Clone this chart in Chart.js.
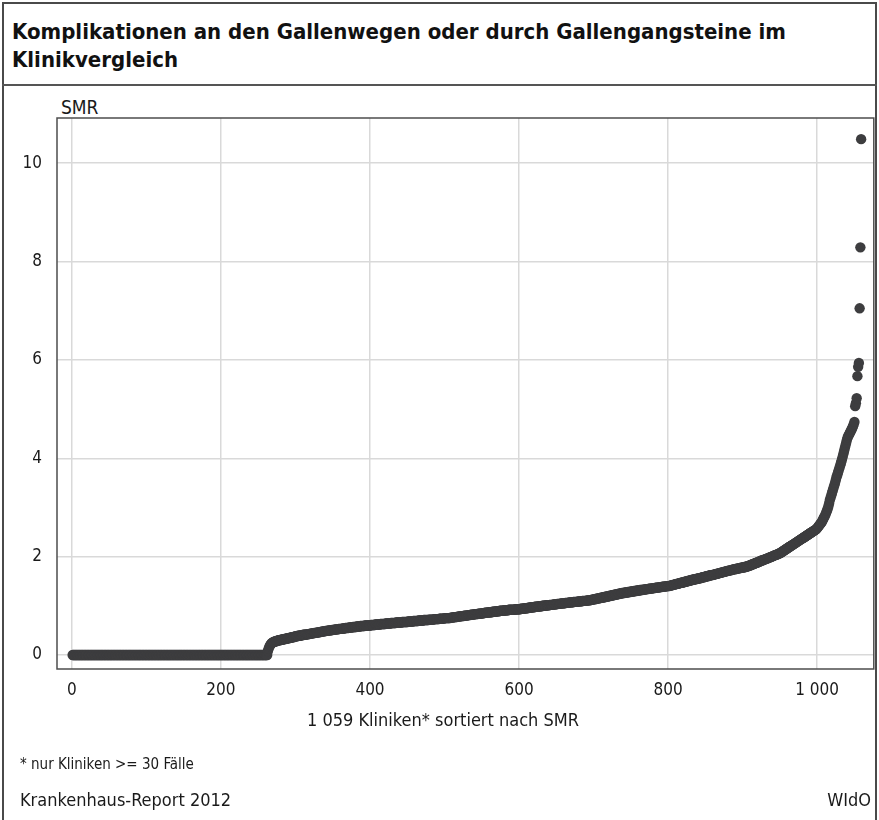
<!DOCTYPE html>
<html lang="de">
<head>
<meta charset="utf-8">
<title>Komplikationen an den Gallenwegen</title>
<script src="https://cdn.jsdelivr.net/npm/chart.js@4.4.1/dist/chart.umd.min.js"></script>
<style>
  html, body { margin: 0; padding: 0; background: #fff; }
  body { width: 879px; height: 820px; position: relative; overflow: hidden;
         font-family: "Liberation Sans Narrow", "DejaVu Sans Condensed", "Open Sans", sans-serif;
         font-stretch: condensed; color: #1a1a1a; }
  #frame { position: absolute; left: 2px; top: 2px; width: 875px; height: 840px;
           border: 2px solid #4a4a4a; box-sizing: border-box; }
  #title { position: absolute; left: 12px; top: 18px; font-size: 22px; font-weight: bold;
           line-height: 28px; color: #111; white-space: nowrap; }
  #sep { position: absolute; left: 2px; top: 84px; width: 875px; height: 0;
         border-top: 2px solid #555; }
  .txt { position: absolute; white-space: nowrap; }
  #chart { position: absolute; left: 0; top: 0; }
</style>
</head>
<body>
<div id="frame"></div>
<div id="title">Komplikationen an den Gallenwegen oder durch Gallengangsteine im<br>Klinikvergleich</div>
<div id="sep"></div>
<div class="txt" style="left:61px;top:96px;font-size:19px;">SMR</div>
<canvas id="chart" width="879" height="820"></canvas>
<div class="txt" style="left:0;width:886px;text-align:center;top:709px;font-size:18px;">1 059 Kliniken* sortiert nach SMR</div>
<div class="txt" style="left:20px;top:755px;font-size:15px;">* nur Kliniken &gt;= 30 Fälle</div>
<div class="txt" style="left:20px;top:789px;font-size:18px;">Krankenhaus-Report 2012</div>
<div class="txt" style="right:8px;top:789px;font-size:18px;">WIdO</div>
<script>
// Kliniken 1..1059, sortiert nach SMR
const zeroSMR = [
  0,0,0,0,0,0,0,0,0,0,0,0,0,0,0,0,0,0,0,0,
  0,0,0,0,0,0,0,0,0,0,0,0,0,0,0,0,0,0,0,0,
  0,0,0,0,0,0,0,0,0,0,0,0,0,0,0,0,0,0,0,0,
  0,0,0,0,0,0,0,0,0,0,0,0,0,0,0,0,0,0,0,0,
  0,0,0,0,0,0,0,0,0,0,0,0,0,0,0,0,0,0,0,0,
  0,0,0,0,0,0,0,0,0,0,0,0,0,0,0,0,0,0,0,0,
  0,0,0,0,0,0,0,0,0,0,0,0,0,0,0,0,0,0,0,0,
  0,0,0,0,0,0,0,0,0,0,0,0,0,0,0,0,0,0,0,0,
  0,0,0,0,0,0,0,0,0,0,0,0,0,0,0,0,0,0,0,0,
  0,0,0,0,0,0,0,0,0,0,0,0,0,0,0,0,0,0,0,0,
  0,0,0,0,0,0,0,0,0,0,0,0,0,0,0,0,0,0,0,0,
  0,0,0,0,0,0,0,0,0,0,0,0,0,0,0,0,0,0,0,0,
  0,0,0,0,0,0,0,0,0,0,0,0,0,0,0,0,0,0,0,0,
  0,0
];
const lowSMR = [
  // 263-280
  0.08,0.13,0.17,0.20,0.22,0.24,0.25,0.26,0.27,0.27,0.28,0.28,0.29,0.29,0.30,0.30,0.30,0.31,
  // 281-300
  0.31,0.31,0.32,0.32,0.32,0.33,0.33,0.33,0.34,0.34,0.34,0.35,0.35,0.35,0.36,0.36,0.36,0.37,0.37,0.38,
  // 301-340
  0.38,0.38,0.39,0.39,0.39,0.39,0.40,0.40,0.40,0.41,0.41,0.41,0.41,0.42,0.42,0.42,0.42,0.43,0.43,0.43,
  0.44,0.44,0.44,0.44,0.45,0.45,0.45,0.45,0.46,0.46,0.46,0.46,0.47,0.47,0.47,0.48,0.48,0.48,0.48,0.49,
  // 341-400
  0.49,0.49,0.49,0.50,0.50,0.50,0.50,0.50,0.51,0.51,0.51,0.51,0.52,0.52,0.52,0.52,0.52,0.53,0.53,0.53,
  0.53,0.53,0.54,0.54,0.54,0.54,0.55,0.55,0.55,0.55,0.55,0.56,0.56,0.56,0.56,0.56,0.57,0.57,0.57,0.57,
  0.57,0.58,0.58,0.58,0.58,0.58,0.59,0.59,0.59,0.59,0.59,0.59,0.60,0.60,0.60,0.60,0.60,0.60,0.60,0.60,
  // 401-450
  0.61,0.61,0.61,0.61,0.61,0.61,0.62,0.62,0.62,0.62,0.62,0.62,0.62,0.63,0.63,0.63,0.63,0.63,0.63,0.63,
  0.64,0.64,0.64,0.64,0.64,0.64,0.64,0.65,0.65,0.65,0.65,0.65,0.65,0.65,0.66,0.66,0.66,0.66,0.66,0.66,
  0.66,0.66,0.67,0.67,0.67,0.67,0.67,0.67,0.67,0.67,
  // 451-507
  0.68,0.68,0.68,0.68,0.68,0.68,0.68,0.69,0.69,0.69,0.69,0.69,0.69,0.69,0.70,0.70,0.70,0.70,0.70,0.70,
  0.70,0.71,0.71,0.71,0.71,0.71,0.71,0.71,0.72,0.72,0.72,0.72,0.72,0.72,0.72,0.73,0.73,0.73,0.73,0.73,
  0.73,0.73,0.74,0.74,0.74,0.74,0.74,0.74,0.74,0.75,0.75,0.75,0.75,0.75,0.75,0.75,0.75
];
const midSMR = [
  // 508-600
  0.76,0.76,0.76,0.76,0.77,0.77,0.77,0.77,0.77,0.78,0.78,0.78,0.78,0.79,0.79,0.79,0.79,0.79,0.80,0.80,
  0.80,0.80,0.80,0.81,0.81,0.81,0.81,0.82,0.82,0.82,0.82,0.82,0.83,0.83,0.83,0.83,0.83,0.84,0.84,0.84,
  0.84,0.84,0.85,0.85,0.85,0.85,0.86,0.86,0.86,0.86,0.86,0.87,0.87,0.87,0.87,0.87,0.88,0.88,0.88,0.88,
  0.88,0.89,0.89,0.89,0.89,0.89,0.90,0.90,0.90,0.90,0.90,0.90,0.91,0.91,0.91,0.91,0.91,0.91,0.92,0.92,
  0.92,0.92,0.92,0.92,0.92,0.92,0.92,0.93,0.93,0.93,0.93,0.93,0.93,
  // 601-695
  0.93,0.94,0.94,0.94,0.94,0.94,0.95,0.95,0.95,0.95,0.95,0.96,0.96,0.96,0.96,0.97,0.97,0.97,0.97,0.97,
  0.98,0.98,0.98,0.98,0.98,0.99,0.99,0.99,0.99,0.99,1.00,1.00,1.00,1.00,1.00,1.01,1.01,1.01,1.01,1.01,
  1.02,1.02,1.02,1.02,1.02,1.03,1.03,1.03,1.03,1.03,1.04,1.04,1.04,1.04,1.04,1.05,1.05,1.05,1.05,1.05,
  1.05,1.06,1.06,1.06,1.06,1.06,1.07,1.07,1.07,1.07,1.07,1.07,1.08,1.08,1.08,1.08,1.08,1.08,1.09,1.09,
  1.09,1.09,1.09,1.09,1.10,1.10,1.10,1.10,1.10,1.10,1.11,1.11,1.11,1.11,1.11,
  // 696-752
  1.12,1.12,1.12,1.13,1.13,1.13,1.14,1.14,1.14,1.15,1.15,1.15,1.16,1.16,1.16,1.17,1.17,1.17,1.18,1.18,
  1.18,1.19,1.19,1.19,1.20,1.20,1.20,1.21,1.21,1.21,1.22,1.22,1.22,1.23,1.23,1.23,1.24,1.24,1.24,1.25,
  1.25,1.25,1.26,1.26,1.26,1.26,1.27,1.27,1.27,1.27,1.28,1.28,1.28,1.28,1.29,1.29,1.29,
  // 753-802
  1.29,1.30,1.30,1.30,1.30,1.31,1.31,1.31,1.31,1.32,1.32,1.32,1.32,1.33,1.33,1.33,1.33,1.34,1.34,1.34,
  1.34,1.35,1.35,1.35,1.35,1.35,1.36,1.36,1.36,1.36,1.37,1.37,1.37,1.37,1.37,1.38,1.38,1.38,1.38,1.39,
  1.39,1.39,1.39,1.39,1.40,1.40,1.40,1.40,1.40,1.41
];
const highSMR = [
  // 803-842
  1.41,1.41,1.42,1.42,1.43,1.43,1.43,1.44,1.44,1.45,1.45,1.45,1.46,1.46,1.47,1.47,1.47,1.48,1.48,1.49,
  1.49,1.49,1.50,1.50,1.51,1.51,1.51,1.52,1.52,1.53,1.53,1.53,1.54,1.54,1.54,1.55,1.55,1.55,1.56,1.56,
  // 843-905
  1.56,1.57,1.57,1.58,1.58,1.58,1.59,1.59,1.60,1.60,1.60,1.61,1.61,1.62,1.62,1.62,1.63,1.63,1.63,1.64,
  1.64,1.65,1.65,1.65,1.66,1.66,1.67,1.67,1.67,1.68,1.68,1.69,1.69,1.69,1.70,1.70,1.71,1.71,1.71,1.72,
  1.72,1.72,1.73,1.73,1.74,1.74,1.74,1.75,1.75,1.75,1.76,1.76,1.76,1.77,1.77,1.77,1.78,1.78,1.78,1.79,
  1.79,1.79,1.80,
  // 906-950
  1.80,1.81,1.81,1.82,1.82,1.83,1.84,1.84,1.85,1.85,1.86,1.87,1.87,1.88,1.88,1.89,1.90,1.90,1.91,1.92,
  1.92,1.93,1.93,1.94,1.95,1.95,1.96,1.96,1.97,1.98,1.98,1.99,1.99,2.00,2.01,2.01,2.02,2.03,2.03,2.04,
  2.04,2.05,2.06,2.06,2.07,
  // 951-999
  2.08,2.09,2.10,2.11,2.12,2.13,2.14,2.15,2.16,2.17,2.18,2.19,2.20,2.21,2.22,2.23,2.24,2.25,2.26,2.27,
  2.28,2.29,2.30,2.31,2.32,2.33,2.34,2.35,2.36,2.37,2.38,2.39,2.40,2.41,2.42,2.43,2.44,2.45,2.46,2.47,
  2.48,2.49,2.50,2.51,2.52,2.53,2.54,2.55,2.56,
  // 1000-1050
  2.58,2.60,2.62,2.64,2.66,2.68,2.70,2.73,2.76,2.79,2.82,2.85,2.89,2.93,2.97,3.02,3.08,3.15,
  3.20,3.25,3.30,3.35,3.40,3.45,3.50,3.56,3.62,
  3.66,3.71,3.76,3.81,3.86,3.91,3.96,4.02,
  4.08,4.14,4.20,4.26,4.32,4.38,4.43,
  4.46,4.49,4.52,4.55,4.58,4.61,4.65,4.69,4.74,
  // 1051-1059
  5.06,5.12,5.22,5.67,5.86,5.94,7.05,8.29,10.49
];

const xTicks = [0, 200, 400, 600, 800, 1000];
const yTicks = [0, 2, 4, 6, 8, 10];

const smrValues = zeroSMR.concat(lowSMR, midSMR, highSMR);
const points = smrValues.map((v, i) => ({ x: i + 1, y: v }));

const frame = {
  id: 'frame',
  afterDatasetsDraw(chart) {
    const a = chart.chartArea, ctx = chart.ctx;
    ctx.save();
    ctx.strokeStyle = '#4d4d4d';
    ctx.lineWidth = 1.5;
    ctx.strokeRect(a.left, a.top, a.right - a.left, a.bottom - a.top);
    ctx.restore();
  }
};

const tickFont = { family: "'Liberation Sans Narrow', 'DejaVu Sans Condensed', 'Open Sans', sans-serif", size: 17 };

new Chart(document.getElementById('chart'), {
  type: 'scatter',
  data: {
    datasets: [{
      data: points,
      backgroundColor: '#3d3d3f',
      borderWidth: 0,
      pointRadius: 5.2,
      pointHoverRadius: 5.2
    }]
  },
  options: {
    responsive: false,
    animation: false,
    layout: { padding: { top: 118, right: 5, left: 0, bottom: 0 } },
    plugins: { legend: { display: false }, tooltip: { enabled: false } },
    scales: {
      x: {
        type: 'linear',
        min: -20,
        max: 1076,
        afterFit(scale) { scale.height = 151; },
        afterBuildTicks(scale) { scale.ticks = xTicks.map(v => ({ value: v })); },
        grid: { color: '#d9d9d9', lineWidth: 1.5, drawTicks: false },
        border: { display: false },
        ticks: {
          color: '#1a1a1a', font: tickFont, padding: 11, maxRotation: 0,
          callback: v => v >= 1000 ? String(v).replace(/(\d)(\d{3})$/, '$1 $2') : String(v)
        }
      },
      y: {
        min: -0.285,
        max: 10.92,
        afterFit(scale) { scale.width = 57; },
        afterBuildTicks(scale) { scale.ticks = yTicks.map(v => ({ value: v })); },
        grid: { color: '#d9d9d9', lineWidth: 1.5, drawTicks: false },
        border: { display: false },
        ticks: { color: '#1a1a1a', font: tickFont, padding: 15 }
      }
    }
  },
  plugins: [frame]
});
</script>
</body>
</html>
